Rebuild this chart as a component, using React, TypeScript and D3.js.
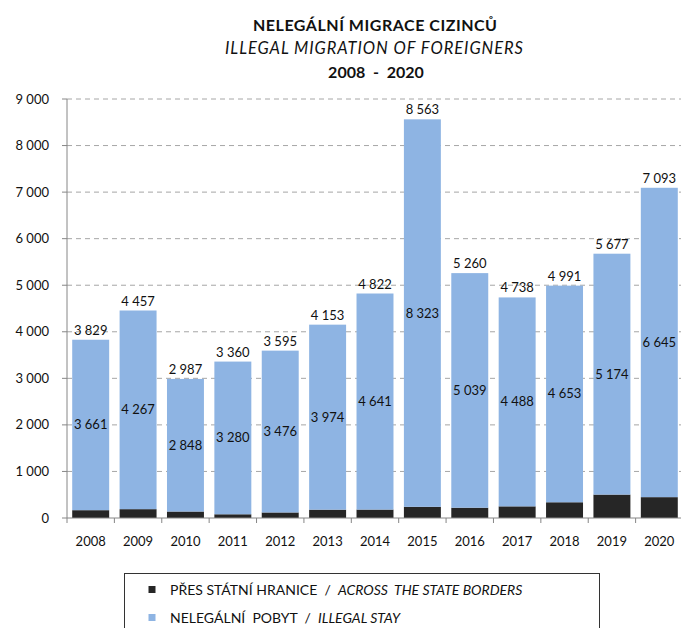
import React from "react";
import * as d3 from "d3";

const years = ["2008","2009","2010","2011","2012","2013","2014","2015","2016","2017","2018","2019","2020"];
const totals = [3829,4457,2987,3360,3595,4153,4822,8563,5260,4738,4991,5677,7093];
const illegalStay = [3661,4267,2848,3280,3476,3974,4641,8323,5039,4488,4653,5174,6645];
const acrossBorders = [168,190,139,80,119,179,181,240,221,250,338,503,448];
const yTicks = [0,1000,2000,3000,4000,5000,6000,7000,8000,9000];

const W = 681, H = 628;
const left = 67, right = 683, top = 99, bottom = 518;
const font = "Lato, 'Open Sans', sans-serif";
const fmt = (v: number) => d3.format(",")(v).replace(/,/g, " ");

export default function App() {
  const x = d3.scaleBand<string>().domain(years).range([left, right]).paddingInner(0.22).paddingOuter(0.11);
  const y = d3.scaleLinear().domain([0, 9000]).range([bottom, top]);
  const step = x.step();
  const rows = years.map((yr, i) => ({ yr, a: acrossBorders[i], s: illegalStay[i], t: totals[i] }));
  return (
    <svg width={W} height={H} style={{ position: "absolute", left: 0, top: 0 }} fontFamily={font}>
      <rect width={W} height={H} fill="#fff" />
      <text x={375} y={31} textAnchor="middle" fontWeight="bold" fontSize={16} fill="#111" textLength={244} lengthAdjust="spacing">NELEGÁLNÍ MIGRACE CIZINCŮ</text>
      <text x={374} y={54} textAnchor="middle" fontStyle="italic" fontSize={16.5} fill="#111" textLength={298} lengthAdjust="spacing">ILLEGAL MIGRATION OF FOREIGNERS</text>
      <text x={376} y={78} textAnchor="middle" fontWeight="bold" fontSize={16} fill="#111" style={{ whiteSpace: "pre" }}>2008  -  2020</text>
      {yTicks.filter(t => t > 0).map(t => (
        <line key={"g" + t} x1={left} x2={W} y1={y(t)} y2={y(t)} stroke="#A6A6A6" strokeDasharray="5,4" />
      ))}
      {rows.map(r => {
        const x0 = x(r.yr)!;
        const bw = x.bandwidth();
        return (
          <g key={r.yr}>
            <rect x={x0} y={y(r.a)} width={bw} height={y(0) - y(r.a)} fill="#262626" />
            <rect x={x0} y={y(r.a + r.s)} width={bw} height={y(r.a) - y(r.a + r.s)} fill="#8EB4E3" />
            <text x={x0 + bw / 2} y={(y(r.a) + y(r.a + r.s)) / 2 + 4.5} textAnchor="middle" fontSize={13} fill="#111">{fmt(r.s)}</text>
            <text x={x0 + bw / 2} y={y(r.t) - 5} textAnchor="middle" fontSize={13} fill="#111">{fmt(r.t)}</text>
            <text x={x0 + bw / 2} y={546} textAnchor="middle" fontSize={13} fill="#111">{r.yr}</text>
          </g>
        );
      })}
      <line x1={left} x2={left} y1={top} y2={bottom} stroke="#868686" />
      <line x1={left} x2={W} y1={bottom} y2={bottom} stroke="#868686" />
      {yTicks.map(t => (
        <g key={"t" + t}>
          <line x1={left - 5} x2={left} y1={y(t)} y2={y(t)} stroke="#868686" />
          <text x={49} y={y(t) + 4.5} textAnchor="end" fontSize={13} fill="#111">{fmt(t)}</text>
        </g>
      ))}
      {d3.range(years.length + 1).map(i => (
        <line key={"xt" + i} x1={left + i * step} x2={left + i * step} y1={bottom} y2={bottom + 5} stroke="#868686" />
      ))}
      <rect x={124.5} y={573.5} width={475} height={70} fill="none" stroke="#333" />
      <rect x={148.5} y={586} width={7} height={7} fill="#262626" />
      <text x={170} y={595} fontSize={14} fill="#111" style={{ whiteSpace: "pre" }}>PŘES STÁTNÍ HRANICE  /  <tspan fontStyle="italic">ACROSS  THE STATE BORDERS</tspan></text>
      <rect x={148.5} y={614} width={7} height={7} fill="#8EB4E3" />
      <text x={170} y={623} fontSize={14} fill="#111" style={{ whiteSpace: "pre" }}>NELEGÁLNÍ  POBYT  /  <tspan fontStyle="italic">ILLEGAL STAY</tspan></text>
    </svg>
  );
}
